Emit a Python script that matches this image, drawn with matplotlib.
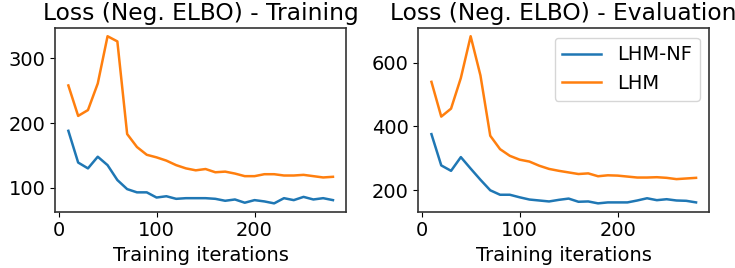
import matplotlib
matplotlib.use("Agg")
import matplotlib.pyplot as plt

# training iterations
iters = list(range(10, 290, 10))

train_lhm_nf = [188, 139, 130, 148, 135, 112, 98, 93, 93, 85, 87, 83, 84, 84,
                84, 83, 80, 82, 77, 81, 79, 76, 84, 81, 86, 82, 84, 81]
train_lhm = [258, 211, 220, 261, 334, 326, 183, 163, 151, 147, 142, 135, 130, 127,
             129, 124, 125, 122, 118, 118, 121, 121, 119, 119, 120, 118, 116, 117]

eval_lhm_nf = [376, 278, 261, 304, 268, 233, 200, 186, 186, 178, 171, 168, 165, 170,
               174, 164, 165, 159, 162, 162, 162, 168, 175, 169, 172, 168, 167, 162]
eval_lhm = [540, 431, 456, 552, 683, 560, 371, 329, 308, 296, 290, 277, 267, 261,
            256, 251, 253, 244, 247, 246, 243, 240, 240, 241, 239, 235, 237, 239]

fig = plt.figure(figsize=(7.35, 2.68), dpi=100)
ax1 = fig.add_axes([0.075, 0.21, 0.396, 0.686])
ax2 = fig.add_axes([0.569, 0.21, 0.396, 0.686])

fs = 14
for ax, nf, lhm, title in [(ax1, train_lhm_nf, train_lhm, "Loss (Neg. ELBO) - Training"),
                           (ax2, eval_lhm_nf, eval_lhm, "Loss (Neg. ELBO) - Evaluation")]:
    ax.plot(iters, nf, color="#1f77b4", linewidth=1.8, label="LHM-NF")
    ax.plot(iters, lhm, color="#ff7f0e", linewidth=1.8, label="LHM")
    ax.set_title(title, fontsize=16.8)
    ax.set_xlabel("Training iterations", fontsize=fs)
    ax.set_xticks([0, 100, 200])
    ax.tick_params(labelsize=fs)
    for s in ax.spines.values():
        s.set_color("#333333")
        s.set_linewidth(1.2)

ax1.set_yticks([100, 200, 300])
ax2.set_yticks([200, 400, 600])
ax2.legend(loc="upper right", fontsize=fs)

fig.savefig("out.png", dpi=100)
